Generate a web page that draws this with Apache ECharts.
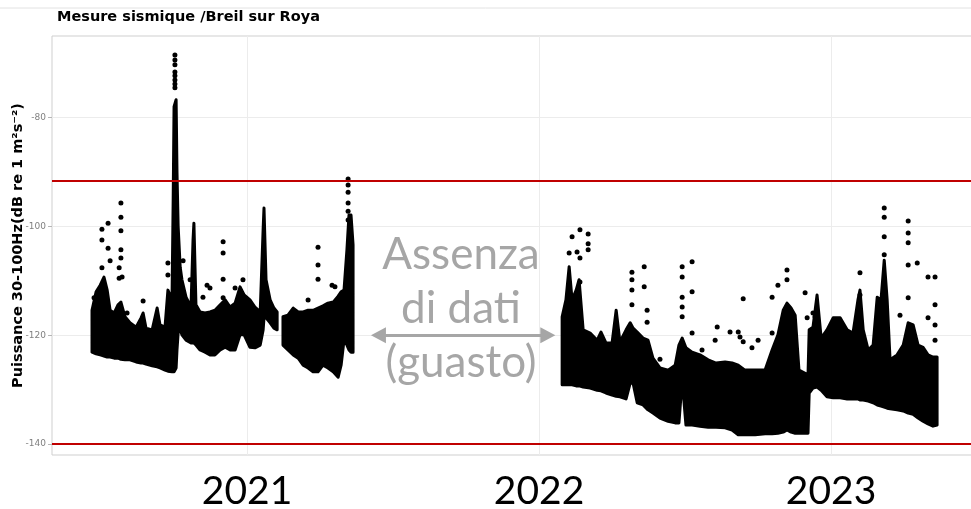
<!DOCTYPE html>
<html>
<head>
<meta charset="utf-8">
<title>Mesure sismique / Breil sur Roya</title>
<script src="https://cdn.jsdelivr.net/npm/echarts@6/dist/echarts.min.js"></script>
<style>
    html, body { margin: 0; padding: 0; background: #ffffff; }
    #chart { width: 971px; height: 509px; }
</style>
</head>
<body>
<div id="chart"></div>
<script>
// Seismic power, Breil sur Roya
// x values are decimal years, y values are dB re 1 m2/s4

// Dense band, first period (until the short break)
const band1aYear = [2020.469, 2020.483, 2020.497, 2020.510, 2020.521, 2020.531, 2020.545, 2020.558, 2020.568, 2020.582,
    2020.599, 2020.620, 2020.637, 2020.644, 2020.654, 2020.675, 2020.692, 2020.702, 2020.719, 2020.729,
    2020.743, 2020.747, 2020.750, 2020.757, 2020.760, 2020.764, 2020.771, 2020.777, 2020.791, 2020.808,
    2020.815, 2020.818, 2020.825, 2020.839, 2020.856, 2020.873, 2020.890, 2020.908, 2020.925, 2020.942,
    2020.959, 2020.976, 2020.990, 2021.010, 2021.027, 2021.045, 2021.055, 2021.058, 2021.065, 2021.079,
    2021.092, 2021.103];
const band1aHigh = [-115.4, -112.0, -110.8, -109.3, -111.7, -115.4, -115.9, -114.4, -113.9, -116.6,
    -117.7, -118.5, -116.8, -115.9, -118.7, -119.0, -115.0, -118.1, -118.5, -111.7,
    -113.5, -95.0, -78.0, -76.7, -90.0, -100.0, -107.5, -109.8, -113.0, -114.8,
    -102.5, -99.4, -114.4, -115.7, -115.9, -115.7, -115.4, -114.4, -113.5, -114.8,
    -114.1, -111.1, -112.6, -113.5, -114.8, -115.7, -100.6, -96.6, -109.8, -113.5,
    -115.0, -115.7];
const band1aLow = [-123.1, -123.4, -123.6, -123.8, -124.0, -124.0, -124.2, -124.2, -124.4, -124.5,
    -124.5, -124.9, -125.1, -125.1, -125.3, -125.6, -125.8, -126.0, -126.4, -126.6,
    -126.7, -126.7, -126.7, -126.0, -122.7, -119.5, -119.0, -119.9, -120.9, -121.4,
    -121.4, -121.4, -121.8, -122.7, -123.1, -123.6, -123.6, -122.7, -122.2, -122.7,
    -122.7, -119.9, -119.9, -122.2, -122.3, -121.8, -119.0, -116.8, -116.8, -117.7,
    -118.7, -119.0];

// Dense band, second part of 2021
const band1bYear = [2021.123, 2021.140, 2021.158, 2021.175, 2021.192, 2021.209, 2021.226, 2021.243, 2021.260,
    2021.277, 2021.295, 2021.312, 2021.322, 2021.332, 2021.342, 2021.349, 2021.356, 2021.363];
const band1bHigh = [-116.6, -116.3, -115.0, -115.7, -115.7, -115.4, -115.4, -115.0, -114.6,
    -114.1, -113.9, -112.8, -112.0, -111.7, -104.3, -97.9, -97.9, -103.4];
const band1bLow = [-121.8, -122.7, -123.6, -124.2, -125.5, -126.0, -126.7, -126.7, -125.5,
    -126.0, -126.7, -127.7, -125.5, -120.9, -121.8, -122.7, -123.1, -123.1];

// Dense band, 2022-2023
const band2Year = [2022.079, 2022.092, 2022.103, 2022.113, 2022.127, 2022.137, 2022.151, 2022.175, 2022.199, 2022.212,
    2022.229, 2022.250, 2022.264, 2022.277, 2022.298, 2022.312, 2022.322, 2022.336, 2022.356, 2022.373,
    2022.390, 2022.414, 2022.442, 2022.466, 2022.479, 2022.490, 2022.503, 2022.524, 2022.551, 2022.579,
    2022.606, 2022.637, 2022.661, 2022.682, 2022.705, 2022.740, 2022.774, 2022.798, 2022.818, 2022.836,
    2022.849, 2022.863, 2022.877, 2022.890, 2022.908, 2022.921, 2022.925, 2022.938, 2022.952, 2022.966,
    2022.986, 2023.007, 2023.031, 2023.055, 2023.075, 2023.092, 2023.099, 2023.110, 2023.127, 2023.144,
    2023.158, 2023.171, 2023.182, 2023.192, 2023.202, 2023.226, 2023.247, 2023.264, 2023.281, 2023.298,
    2023.315, 2023.332, 2023.349, 2023.363];
const band2High = [-116.6, -113.5, -107.4, -113.5, -111.7, -109.8, -119.0, -119.6, -120.9, -119.4,
    -121.4, -121.4, -115.4, -121.2, -119.0, -117.7, -118.7, -119.4, -120.5, -120.9,
    -124.2, -126.0, -126.4, -125.5, -121.8, -120.5, -122.3, -123.1, -123.6, -124.5,
    -125.1, -124.9, -125.1, -125.5, -126.4, -126.4, -126.4, -122.7, -119.9, -115.4,
    -114.1, -115.0, -116.3, -126.4, -126.9, -127.3, -119.0, -118.5, -112.6, -120.5,
    -119.0, -116.8, -116.8, -119.0, -119.6, -113.5, -111.7, -119.0, -122.7, -121.8,
    -113.0, -113.5, -106.2, -113.5, -124.5, -123.6, -121.8, -117.7, -118.1, -121.8,
    -122.2, -123.6, -124.0, -124.0];
const band2Low = [-129.1, -129.1, -129.1, -129.1, -129.3, -129.3, -129.5, -129.7, -130.1, -130.2,
    -130.6, -131.0, -131.2, -131.3, -131.7, -128.8, -128.8, -132.4, -132.8, -133.7,
    -134.3, -135.2, -135.8, -136.1, -136.1, -128.2, -136.5, -136.5, -136.7, -136.9,
    -136.9, -137.0, -137.4, -138.3, -138.3, -138.3, -138.1, -138.1, -138.0, -137.8,
    -137.4, -137.8, -138.0, -138.0, -138.0, -138.0, -130.6, -129.7, -129.5, -130.1,
    -131.3, -131.5, -131.5, -131.7, -131.7, -131.7, -131.9, -131.9, -132.1, -132.4,
    -132.8, -133.0, -133.2, -133.4, -133.5, -133.7, -133.9, -134.3, -134.5, -135.2,
    -135.8, -136.3, -136.7, -136.5];

// Isolated points above the band
const dotYear = [
    2020.753, 2020.753, 2020.753, 2020.753, 2020.753, 2020.753, 2020.753, 2020.753,
    2020.568, 2020.568, 2020.568, 2020.568, 2020.568,
    2020.503, 2020.503, 2020.503, 2020.524, 2020.524, 2020.531, 2020.562, 2020.562, 2020.572,
    2020.476, 2020.644, 2020.589, 2020.729, 2020.729, 2020.781, 2020.805, 2020.849, 2020.863, 2020.873,
    2020.918, 2020.918, 2020.918, 2020.918, 2020.986, 2020.959,
    2021.243, 2021.243, 2021.243, 2021.209, 2021.291, 2021.301,
    2021.346, 2021.346, 2021.346, 2021.346, 2021.346, 2021.346,
    2022.113, 2022.140, 2022.140, 2022.140, 2022.168, 2022.168, 2022.168, 2022.103, 2022.130,
    2022.318, 2022.318, 2022.318, 2022.318, 2022.360, 2022.360, 2022.370, 2022.370, 2022.414,
    2022.490, 2022.490, 2022.490, 2022.490, 2022.490, 2022.524, 2022.524, 2022.524,
    2022.558, 2022.603, 2022.610, 2022.654, 2022.682, 2022.688, 2022.699, 2022.699, 2022.729, 2022.750,
    2022.798, 2022.798, 2022.818, 2022.849, 2022.849, 2022.911, 2022.918, 2022.938, 2022.945,
    2023.099, 2023.099, 2023.182, 2023.182, 2023.182, 2023.182,
    2023.264, 2023.264, 2023.264, 2023.264, 2023.264, 2023.295, 2023.236,
    2023.332, 2023.332, 2023.356, 2023.356, 2023.356, 2023.356
];
const dotPower = [
    -68.5, -69.4, -70.3, -71.6, -72.3, -73.1, -73.8, -74.5,
    -95.7, -98.3, -100.8, -104.3, -105.8,
    -100.5, -102.5, -107.6, -99.4, -104.0, -106.3, -107.6, -109.5, -109.3,
    -113.1, -113.7, -115.9, -106.7, -108.9, -106.3, -109.8, -113.0, -110.8, -111.3,
    -102.8, -104.9, -109.7, -113.1, -109.8, -111.3,
    -103.8, -107.1, -109.7, -113.5, -110.8, -111.1,
    -91.3, -92.4, -93.7, -95.7, -97.2, -98.8,
    -101.9, -100.6, -105.8, -110.2, -101.4, -103.2, -104.3, -104.9, -104.7,
    -108.4, -109.8, -111.7, -114.4, -107.4, -111.1, -115.4, -117.6, -124.4,
    -107.4, -109.3, -113.0, -114.8, -116.6, -106.5, -112.0, -119.6,
    -122.7, -120.9, -118.5, -119.4, -119.4, -120.3, -113.3, -121.2, -122.3, -120.9,
    -113.0, -119.6, -110.8, -108.0, -109.8, -112.2, -116.8, -115.9, -116.6,
    -108.5, -112.6, -96.6, -98.3, -101.9, -105.2,
    -99.0, -101.2, -103.0, -107.1, -113.1, -106.7, -116.3,
    -109.3, -116.8, -109.3, -114.4, -118.1, -120.9
];

// Reference lines, ticks, annotation
const thresholdLevels = [-91.6, -140];
const yearTicks = [2021, 2022, 2023];
const powerTicks = [-140, -120, -100, -80];
const gapArrow = [2021.45, 2022.03];
const gapArrowLevel = -120;
const gapText = 'Assenza\ndi dati\n(guasto)';

document.addEventListener('DOMContentLoaded', function() {
    initChart();
});

function initChart() {
    const chartDom = document.getElementById('chart');
    const myChart = echarts.init(chartDom, null, { renderer: 'canvas' });

    const bands = [
        { year: band1aYear, high: band1aHigh, low: band1aLow },
        { year: band1bYear, high: band1bHigh, low: band1bLow },
        { year: band2Year, high: band2High, low: band2Low }
    ];

    // one polygon per continuous stretch of recording
    function renderBand(params, api) {
        const b = bands[params.dataIndex];
        const points = [];
        for (let i = 0; i < b.year.length; i++) {
            points.push(api.coord([b.year[i], b.high[i]]));
        }
        for (let i = b.year.length - 1; i >= 0; i--) {
            points.push(api.coord([b.year[i], b.low[i]]));
        }
        return {
            type: 'polygon',
            shape: { points: points },
            style: { fill: '#000', stroke: '#000', lineWidth: 3, lineJoin: 'round' }
        };
    }

    const dots = dotYear.map((y, i) => [y, dotPower[i]]);

    const option = {
        animation: false,
        backgroundColor: '#ffffff',
        title: {
            text: 'Mesure sismique /Breil sur Roya',
            left: 52,
            top: 5,
            textStyle: {
                fontFamily: 'DejaVu Sans',
                fontWeight: 'bold',
                fontSize: 14.5,
                color: '#000'
            }
        },
        grid: {
            left: 52,
            right: -2,
            top: 36,
            bottom: 54,
            outerBoundsMode: 'none',
            containLabel: false,
            show: true,
            borderColor: '#cfcfcf',
            borderWidth: 1
        },
        xAxis: {
            type: 'value',
            min: 2020.332,
            max: 2023.486,
            axisLine: { show: false },
            axisTick: { show: false, customValues: yearTicks },
            axisLabel: {
                customValues: yearTicks,
                formatter: v => String(v),
                fontFamily: 'Lato',
                fontSize: 39,
                color: '#000',
                margin: 17
            },
            splitLine: { show: true, lineStyle: { color: '#ececec', width: 1 } }
        },
        yAxis: {
            type: 'value',
            min: -142,
            max: -65,
            name: 'Puissance 30-100Hz(dB re 1 m²s⁻²)',
            nameLocation: 'middle',
            nameGap: 26,
            nameMoveOverlap: false,
            nameTextStyle: {
                fontFamily: 'DejaVu Sans',
                fontWeight: 'bold',
                fontSize: 14.5,
                color: '#000'
            },
            axisLine: { show: false },
            axisTick: {
                show: true,
                length: 4,
                customValues: powerTicks,
                lineStyle: { color: '#b5b5b5' }
            },
            axisLabel: {
                customValues: powerTicks,
                fontFamily: 'DejaVu Sans',
                fontSize: 9,
                color: '#808080',
                margin: 6
            },
            splitLine: { show: true, lineStyle: { color: '#ececec', width: 1 } }
        },
        graphic: [
            {
                type: 'line',
                shape: { x1: 0, y1: 8, x2: 971, y2: 8 },
                style: { stroke: '#e2e2e2', lineWidth: 1 },
                silent: true
            },
            {
                type: 'text',
                x: 461,
                y: 228,
                z: 20,
                style: {
                    text: gapText,
                    fill: '#a6a6a6',
                    fontFamily: 'Lato',
                    fontSize: 44,
                    lineHeight: 54,
                    align: 'center',
                    verticalAlign: 'top'
                },
                silent: true
            }
        ],
        series: [
            {
                name: 'band',
                type: 'custom',
                renderItem: renderBand,
                clip: true,
                data: bands.map(b => [b.year[0], b.low[0]]),
                silent: true
            },
            {
                name: 'points',
                type: 'scatter',
                data: dots,
                symbol: 'circle',
                symbolSize: 5,
                itemStyle: { color: '#000', opacity: 1 },
                silent: true,
                markLine: {
                    silent: true,
                    symbol: 'none',
                    label: { show: false },
                    lineStyle: { color: '#c00000', width: 2, type: 'solid' },
                    data: thresholdLevels.map(v => ({ yAxis: v }))
                }
            },
            {
                name: 'gap',
                type: 'line',
                data: [],
                silent: true,
                markLine: {
                    silent: true,
                    symbol: ['triangle', 'triangle'],
                    symbolSize: [16, 15],
                    label: { show: false },
                    lineStyle: { color: '#a6a6a6', width: 3, type: 'solid' },
                    data: [[
                        { coord: [gapArrow[0], gapArrowLevel] },
                        { coord: [gapArrow[1], gapArrowLevel] }
                    ]]
                }
            }
        ]
    };

    myChart.setOption(option);

    window.addEventListener('resize', () => {
        myChart.resize();
    });
}
</script>
</body>
</html>
